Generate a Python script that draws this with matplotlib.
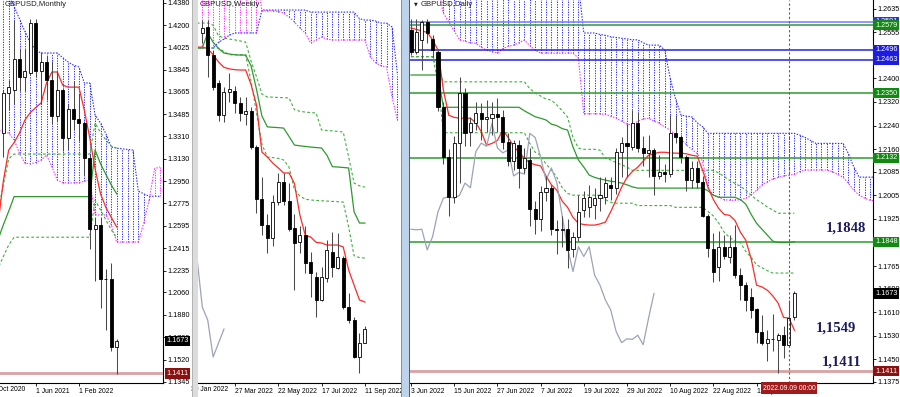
import matplotlib
matplotlib.use("Agg")
import matplotlib.pyplot as plt
from matplotlib.patches import Rectangle

plt.rcParams['font.family'] = ['Liberation Sans', 'DejaVu Sans']

# ---------------- monthly GBPUSD (Dec 2020 .. Sep 2022) ----------------
m_open = [1.3337, 1.3660, 1.3680, 1.3930, 1.3785, 1.3820, 1.4215, 1.3830, 1.3905, 1.3760, 1.3475,
          1.3680, 1.3300, 1.3530, 1.3450, 1.3415, 1.3140, 1.2570, 1.2600, 1.2170, 1.2165, 1.1620]
m_high = [1.3681, 1.3760, 1.4240, 1.4010, 1.4010, 1.4250, 1.4250, 1.3985, 1.3955, 1.3915, 1.3835,
          1.3700, 1.3572, 1.3750, 1.3645, 1.3435, 1.3165, 1.2665, 1.2665, 1.2245, 1.2295, 1.1690]
m_low = [1.3146, 1.3520, 1.3565, 1.3670, 1.3670, 1.3800, 1.3785, 1.3570, 1.3600, 1.3410, 1.3435,
         1.3195, 1.3200, 1.3360, 1.3275, 1.3000, 1.2410, 1.2155, 1.1935, 1.1760, 1.1590, 1.1405]
m_close = [1.3657, 1.3705, 1.3930, 1.3785, 1.3830, 1.4215, 1.3830, 1.3905, 1.3760, 1.3475, 1.3680,
           1.3300, 1.3530, 1.3450, 1.3415, 1.3140, 1.2570, 1.2600, 1.2165, 1.2165, 1.1620, 1.1673]
# lines start one bar before the first candle (Nov 2020)
m_tenkan = [1.2600, 1.2950, 1.3200, 1.3260, 1.3337, 1.3440, 1.3500, 1.3540, 1.3577, 1.3737, 1.3825,
            1.3825, 1.3720, 1.3704, 1.3704, 1.3704, 1.3520, 1.3300, 1.3050, 1.2850, 1.2740, 1.2660, 1.2584]
m_kijun = [1.2480, 1.2600, 1.2710] + [1.2827] * 15 + [1.3200, 1.3090, 1.3005, 1.2920, 1.2850]
m_level_hi = [1.2700, 1.2920, 1.3130] + [1.3168] * 15 + [1.3416, 1.3340, 1.3280, 1.3230, 1.3216]
m_level_lo = [1.2250, 1.2347, 1.2440] + [1.2502] * 15 + [1.2800, 1.2720, 1.2640, 1.2560, 1.2500]
m_span_a = [1.4450, 1.4450, 1.4450, 1.4350, 1.4250, 1.4150, 1.4060, 1.4000, 1.3977, 1.3977, 1.3977,
            1.3977, 1.3940, 1.3905, 1.3880, 1.3865, 1.3737, 1.3737, 1.3480, 1.3416, 1.3330, 1.3224,
            1.3216, 1.3210, 1.3205, 1.3200, 1.2870, 1.2850, 1.2830, 1.2830, 1.2830]
m_span_b = [1.3360, 1.3350, 1.3336, 1.3280, 1.3175, 1.3095, 1.3090, 1.3100, 1.3120, 1.3160, 1.3065,
            1.2959, 1.2940, 1.2935, 1.2938, 1.2940, 1.2950, 1.2959, 1.2680, 1.2680, 1.2680, 1.2600,
            1.2463, 1.2463, 1.2463, 1.2463, 1.2463, 1.2615, 1.2800, 1.3050, 1.3065]
m_yticks = [1.4380, 1.4200, 1.4025, 1.3845, 1.3665, 1.3485, 1.3310, 1.3130, 1.2950, 1.2775, 1.2595,
            1.2415, 1.2235, 1.2060, 1.1880, 1.1700, 1.1520, 1.1345]
m_xlabels = {-2: '1 Oct 2020', 6: '1 Jun 2021', 14: '1 Feb 2022'}

# ---------------- weekly GBPUSD (13 Feb 2022 .. 11 Sep 2022) ----------------
w_open = [1.3559, 1.3597, 1.3418, 1.3240, 1.3036, 1.3183, 1.3190, 1.3113, 1.3040, 1.3060, 1.2832,
          1.2500, 1.2335, 1.2255, 1.2482, 1.2609, 1.2490, 1.2316, 1.2225, 1.2272, 1.2100, 1.2004,
          1.1858, 1.1998, 1.2163, 1.2062, 1.2125, 1.1813, 1.1730, 1.1495, 1.1584]
w_high = [1.3641, 1.3641, 1.3450, 1.3259, 1.3215, 1.3304, 1.3220, 1.3150, 1.3150, 1.3090, 1.2845,
          1.2640, 1.2405, 1.2525, 1.2665, 1.2665, 1.2600, 1.2405, 1.2330, 1.2330, 1.2163, 1.2036,
          1.2068, 1.2240, 1.2291, 1.2285, 1.2140, 1.1902, 1.1749, 1.1648, 1.1690]
w_low = [1.3495, 1.3278, 1.3195, 1.3000, 1.2990, 1.3120, 1.3050, 1.3000, 1.2975, 1.2820, 1.2412,
         1.2275, 1.2157, 1.2200, 1.2460, 1.2460, 1.2300, 1.1921, 1.2160, 1.2030, 1.1875, 1.1749,
         1.1850, 1.1975, 1.2005, 1.2055, 1.1800, 1.1711, 1.1488, 1.1393, 1.1584]
w_close = [1.3590, 1.3418, 1.3215, 1.3036, 1.3183, 1.3200, 1.3113, 1.3049, 1.3060, 1.2832, 1.2500,
           1.2335, 1.2253, 1.2482, 1.2609, 1.2490, 1.2310, 1.2221, 1.2270, 1.2093, 1.2030, 1.1858,
           1.2004, 1.2176, 1.2068, 1.2132, 1.1813, 1.1730, 1.1495, 1.1584, 1.1673]
# lines start one bar before the first candle
w_tenkan = [1.3469, 1.3469, 1.3460, 1.3420, 1.3374, 1.3340, 1.3330, 1.3325, 1.3323, 1.3323, 1.3230,
            1.3100, 1.2800, 1.2769, 1.2730, 1.2700, 1.2667, 1.2667, 1.2600, 1.2400, 1.2270, 1.2259,
            1.2225, 1.2221, 1.2208, 1.2208, 1.2208, 1.2196, 1.2049, 1.1953, 1.1858, 1.1845]
w_kijun = [1.3463, 1.3463, 1.3559, 1.3500, 1.3460, 1.3431, 1.3425, 1.3420, 1.3418, 1.3418, 1.3350,
           1.3200, 1.3030, 1.2961, 1.2958, 1.2956, 1.2953, 1.2900, 1.2845, 1.2840, 1.2836, 1.2832,
           1.2829, 1.2826, 1.2780, 1.2707, 1.2705, 1.2702, 1.2699, 1.2420, 1.2348, 1.2348]
w_level_hi = [1.3622, 1.3622, 1.3622, 1.3609, 1.3540, 1.3527, 1.3520, 1.3515, 1.3508, 1.3501, 1.3380,
              1.3280, 1.3170, 1.3151, 1.3150, 1.3148, 1.3147, 1.3145, 1.3070, 1.3060, 1.3055, 1.3052,
              1.3049, 1.2941, 1.2938, 1.2935, 1.2932, 1.2928, 1.2769, 1.2603, 1.2585, 1.2577]
w_level_lo = [1.3463, 1.3463, 1.3463, 1.3463, 1.3463, 1.3440, 1.3420, 1.3420, 1.3420, 1.3420, 1.3250,
              1.3050, 1.2850, 1.2769, 1.2765, 1.2760, 1.2750, 1.2705, 1.2560, 1.2520, 1.2500, 1.2495,
              1.2492, 1.2490, 1.2488, 1.2486, 1.2484, 1.2482, 1.2323, 1.2140, 1.2128, 1.2125]
w_span_a = [1.3463, 1.3463, 1.3463, 1.3463, 1.3500, 1.3520, 1.3545, 1.3559, 1.3559, 1.3559, 1.3559,
            1.3559, 1.3705, 1.3705, 1.3705, 1.3705, 1.3705, 1.3705, 1.3705, 1.3705, 1.3705, 1.3692,
            1.3692, 1.3692, 1.3692, 1.3692, 1.3692, 1.3692, 1.3692, 1.3692, 1.3650, 1.3641, 1.3641,
            1.3635, 1.3622, 1.3622, 1.3597, 1.3300]
w_span_b = [1.3950] * 12 + [1.3700, 1.3700, 1.3700, 1.3695, 1.3686, 1.3660, 1.3629, 1.3590, 1.3559,
                            1.3495, 1.3515, 1.3533, 1.3520, 1.3514, 1.3514, 1.3514, 1.3514, 1.3514,
                            1.3514, 1.3514, 1.3406, 1.3368, 1.3350, 1.3342, 1.3151, 1.3004]
w_xlabels = {-2: '30 Jan 2022', 6: '27 Mar 2022', 14: '22 May 2022', 22: '17 Jul 2022', 30: '11 Sep 2022'}

# ---------------- daily GBPUSD (3 Jun 2022 .. 12 Sep 2022) ----------------
d_open = [1.2564, 1.2490, 1.2530, 1.2590, 1.2532, 1.2490, 1.2304, 1.2135, 1.2000, 1.2180, 1.2350,
          1.2218, 1.2250, 1.2282, 1.2262, 1.2265, 1.2280, 1.2270, 1.2185, 1.2120, 1.2176, 1.2097,
          1.2125, 1.1960, 1.1925, 1.2017, 1.2030, 1.1890, 1.1888, 1.1890, 1.1822, 1.1865, 1.1955,
          1.1966, 1.1971, 1.1995, 1.1998, 1.2040, 1.2030, 1.2152, 1.2181, 1.2168, 1.2248, 1.2165,
          1.2148, 1.2158, 1.2070, 1.2082, 1.2076, 1.2214, 1.2200, 1.2133, 1.2056, 1.2097, 1.2048,
          1.1935, 1.1822, 1.1764, 1.1831, 1.1795, 1.1831, 1.1735, 1.1701, 1.1660, 1.1620, 1.1544,
          1.1507, 1.1520, 1.1516, 1.1532, 1.1500, 1.1592]
d_high = [1.2600, 1.2599, 1.2598, 1.2600, 1.2545, 1.2500, 1.2320, 1.2160, 1.2205, 1.2405, 1.2368,
          1.2270, 1.2320, 1.2315, 1.2325, 1.2320, 1.2332, 1.2292, 1.2215, 1.2190, 1.2190, 1.2165,
          1.2165, 1.1985, 1.2035, 1.2070, 1.2040, 1.1921, 1.1935, 1.1925, 1.1880, 1.2005, 1.2020,
          1.2040, 1.2030, 1.2065, 1.2065, 1.2065, 1.2165, 1.2200, 1.2245, 1.2293, 1.2285, 1.2205,
          1.2210, 1.2165, 1.2140, 1.2110, 1.2277, 1.2276, 1.2210, 1.2140, 1.2120, 1.2120, 1.2070,
          1.1940, 1.1876, 1.1885, 1.1870, 1.1870, 1.1905, 1.1760, 1.1712, 1.1690, 1.1625, 1.1600,
          1.1550, 1.1605, 1.1540, 1.1562, 1.1650, 1.1680]
d_low = [1.2480, 1.2483, 1.2428, 1.2520, 1.2470, 1.2290, 1.2110, 1.1934, 1.1980, 1.2046, 1.2170,
         1.2170, 1.2225, 1.2190, 1.2220, 1.2210, 1.2220, 1.2160, 1.2105, 1.2090, 1.2030, 1.2080,
         1.1900, 1.1875, 1.1885, 1.1985, 1.1870, 1.1808, 1.1830, 1.1760, 1.1795, 1.1850, 1.1930,
         1.1930, 1.1925, 1.1950, 1.1975, 1.1990, 1.2010, 1.2065, 1.2065, 1.2157, 1.2150, 1.2105,
         1.2065, 1.2005, 1.2060, 1.2050, 1.2068, 1.2180, 1.2115, 1.2020, 1.2030, 1.2030, 1.1930,
         1.1795, 1.1713, 1.1716, 1.1790, 1.1775, 1.1725, 1.1652, 1.1615, 1.1590, 1.1505, 1.1500,
         1.1444, 1.1480, 1.1404, 1.1455, 1.1495, 1.1585]
d_close = [1.2488, 1.2555, 1.2590, 1.2553, 1.2496, 1.2304, 1.2135, 1.2000, 1.2180, 1.2350, 1.2214,
           1.2250, 1.2282, 1.2262, 1.2270, 1.2280, 1.2270, 1.2185, 1.2120, 1.2180, 1.2097, 1.2130,
           1.1960, 1.1925, 1.2017, 1.2030, 1.1890, 1.1888, 1.1890, 1.1820, 1.1865, 1.1949, 1.1995,
           1.2000, 1.1995, 1.2005, 1.2046, 1.2030, 1.2152, 1.2181, 1.2170, 1.2248, 1.2165, 1.2148,
           1.2158, 1.2070, 1.2082, 1.2076, 1.2214, 1.2200, 1.2133, 1.2056, 1.2097, 1.2048, 1.1935,
           1.1826, 1.1747, 1.1831, 1.1798, 1.1831, 1.1735, 1.1701, 1.1651, 1.1617, 1.1544, 1.1507,
           1.1520, 1.1518, 1.1532, 1.1500, 1.1590, 1.1673]
d_tenkan = [1.2570, 1.2565, 1.2560, 1.2555, 1.2530, 1.2495, 1.2360, 1.2275, 1.2268, 1.2265, 1.2265,
            1.2265, 1.2250, 1.2220, 1.2174, 1.2180, 1.2190, 1.2225, 1.2200, 1.2170, 1.2150, 1.2130,
            1.2114, 1.2108, 1.2104, 1.2070, 1.2040, 1.2022, 1.1985, 1.1964, 1.1930, 1.1910, 1.1906,
            1.1904, 1.1904, 1.1908, 1.1914, 1.1950, 1.1990, 1.2032, 1.2065, 1.2085, 1.2100, 1.2120,
            1.2140, 1.2145, 1.2150, 1.2150, 1.2148, 1.2147, 1.2147, 1.2145, 1.2140, 1.2137, 1.2090,
            1.2032, 1.1990, 1.1960, 1.1940, 1.1937, 1.1920, 1.1880, 1.1853, 1.1790, 1.1701, 1.1695,
            1.1684, 1.1665, 1.1640, 1.1592, 1.1590, 1.1549]
d_kijun = [1.2411] * 6 + [1.2302] * 15 + [1.2290, 1.2280, 1.2270, 1.2265, 1.2259, 1.2245, 1.2240,
                                         1.2230, 1.2225, 1.2168, 1.2124, 1.2100, 1.2073, 1.2065,
                                         1.2060, 1.2056, 1.2052, 1.2050, 1.2046, 1.2040, 1.2033] \
          + [1.2029] * 13 + [1.2020, 1.2005, 1.1998, 1.1998, 1.1998, 1.1998, 1.1990, 1.1975, 1.1940,
                             1.1910, 1.1890, 1.1870, 1.1850, 1.1845, 1.1845, 1.1845, 1.1848]
d_level_hi = [1.2473] * 5 + [1.2430] + [1.2388] * 16 + [1.2365, 1.2350, 1.2340, 1.2330, 1.2326,
                                                      1.2310, 1.2290, 1.2269, 1.2200, 1.2164,
                                                      1.2160, 1.2160, 1.2160, 1.2157, 1.2130,
                                                      1.2124, 1.2115, 1.2108, 1.2100] \
             + [1.2089] * 16 + [1.2080, 1.2068, 1.2055, 1.2045, 1.2035, 1.2022, 1.2005, 1.1990,
                                1.1978, 1.1965, 1.1955, 1.1944, 1.1944, 1.1944, 1.1944]
d_level_lo = [1.2473] * 5 + [1.2388] + [1.2216] * 16 + [1.2180, 1.2150, 1.2140, 1.2110, 1.2090,
                                                      1.2066, 1.2030, 1.2011, 1.2005, 1.2005,
                                                      1.2005, 1.2005, 1.2005, 1.2005, 1.1990,
                                                      1.1981, 1.1978, 1.1978, 1.1978, 1.1978] \
             + [1.1970] * 7 + [1.1964] * 6 + [1.1950, 1.1935, 1.1910, 1.1880, 1.1862, 1.1850,
                                              1.1845, 1.1815, 1.1795, 1.1770, 1.1760, 1.1750,
                                              1.1742, 1.1742, 1.1742, 1.1742, 1.1742]
d_span_a = [1.2720] * 32 + [1.2553, 1.2553, 1.2553, 1.2548, 1.2545, 1.2540, 1.2538, 1.2535, 1.2533,
                            1.2530, 1.2530, 1.2520, 1.2512, 1.2512, 1.2512, 1.2495, 1.2400, 1.2330,
                            1.2276, 1.2272, 1.2270, 1.2250, 1.2236] \
           + [1.2214] * 17 + [1.2208, 1.2200, 1.2190, 1.2180, 1.2180, 1.2180, 1.2180, 1.2180,
                              1.2180, 1.2146, 1.2100, 1.2066, 1.2066, 1.2066, 1.2066]
d_span_b = [1.2700] * 6 + [1.2620, 1.2590, 1.2560, 1.2530, 1.2525, 1.2520, 1.2518, 1.2505, 1.2495,
                           1.2490, 1.2485, 1.2500, 1.2508, 1.2512, 1.2520, 1.2529, 1.2510, 1.2495] \
           + [1.2485] * 7 + [1.2468, 1.2280, 1.2280, 1.2280, 1.2280, 1.2278, 1.2272, 1.2265, 1.2255,
                             1.2245, 1.2242, 1.2255, 1.2262, 1.2265, 1.2255, 1.2248, 1.2235, 1.2225,
                             1.2210, 1.2195, 1.2175, 1.2160, 1.2145, 1.2120, 1.2030, 1.2005, 1.1998,
                             1.1990, 1.1988, 1.1988, 1.1990, 1.1995, 1.2005, 1.2022, 1.2040, 1.2050,
                             1.2060, 1.2065, 1.2070, 1.2073, 1.2075, 1.2085, 1.2090, 1.2090, 1.2090,
                             1.2090, 1.2090, 1.2085, 1.2075, 1.2066, 1.2045, 1.2022, 1.2005, 1.1995,
                             1.1988, 1.1985]
d_yticks = [1.2635, 1.2555, 1.2480, 1.2400, 1.2320, 1.2240, 1.2160, 1.2085, 1.2005, 1.1925, 1.1845,
            1.1765, 1.1690, 1.1610, 1.1530, 1.1450, 1.1375]
d_xlabels = {0: '3 Jun 2022', 8: '15 Jun 2022', 16: '27 Jun 2022', 24: '7 Jul 2022', 32: '19 Jul 2022',
             40: '29 Jul 2022', 48: '10 Aug 2022', 56: '22 Aug 2022', 64: '1 Sep 2022'}
d_levels = [(1.2591, '#7878ff'), (1.2579, '#2e9a2e'), (1.2496, '#2424e0'), (1.2463, '#2424e0'),
            (1.2350, '#2e9a2e'), (1.2132, '#2e9a2e'), (1.1848, '#2e9a2e'), (1.1411, '#d8a2a2')]
d_tags = [(1.2591, '1.2591', '#3030e8'), (1.2579, '1.2579', '#108a10'), (1.2496, '1.2496', '#1c1ce0'),
          (1.2463, '1.2463', '#1c1ce0'), (1.2350, '1.2350', '#108a10'), (1.2132, '1.2132', '#108a10'),
          (1.1848, '1.1848', '#108a10'), (1.1673, '1.1673', 'black'), (1.1411, '1.1411', '#8b1010')]
notes = ['1,1848', '1,1549', '1,1411']

BLUE, MAG = '#2a2aff', '#ff30ff'
RED, GREEN, LGREEN, GRAY = '#ff2a2a', '#2e9a2e', '#3fb03f', '#9ea3b5'
DOT = (0, (1.3, 1.3))
YFS, XFS = 5.2, 4.9

W, H = 900, 397
fig = plt.figure(figsize=(9, 3.97), dpi=100)


def px_axes(x0, x1, y0, y1):
    return fig.add_axes([x0 / W, 1 - y1 / H, (x1 - x0) / W, (y1 - y0) / H])


def candles(ax, o, h, l, c, w=0.56):
    for k in range(len(o)):
        ax.vlines(k, l[k], h[k], color='#4a4a4a', lw=0.75, zorder=5)
        lo, hi = min(o[k], c[k]), max(o[k], c[k])
        fc = 'white' if c[k] >= o[k] else 'black'
        ax.add_patch(Rectangle((k - w / 2, lo), w, max(hi - lo, 1e-6), fc=fc, ec='black', lw=0.6, zorder=6))


def kumo(ax, start, a, b):
    xs = [start + k for k in range(len(a))]
    for x, ai, bi in zip(xs, a, b):
        ax.vlines(x, min(ai, bi), max(ai, bi), colors=BLUE if ai >= bi else MAG,
                  linestyles=DOT, lw=0.7, zorder=1)
    ax.plot(xs, a, color=BLUE, ls=DOT, lw=0.8, zorder=2)
    ax.plot(xs, b, color=MAG, ls=DOT, lw=0.8, zorder=2)


def line(ax, start, vals, **kw):
    ax.plot([start + k for k in range(len(vals))], vals, **kw)


def frame(ax, yticks=None, xlabels=None):
    ax.spines['top'].set_visible(False)
    ax.spines['left'].set_visible(False)
    for s in ('right', 'bottom'):
        ax.spines[s].set_linewidth(0.8)
    ax.yaxis.tick_right()
    ax.tick_params(axis='y', length=2, width=0.6, pad=1.0, labelsize=YFS)
    ax.tick_params(axis='x', length=2.5, width=0.6, pad=1.2, labelsize=XFS)
    if yticks is None:
        ax.spines['right'].set_visible(False)
        ax.set_yticks([])
    else:
        ax.set_yticks(yticks, [f'{v:.4f}' for v in yticks])
    lo, hi = ax.get_xlim()
    inside = {k: v for k, v in xlabels.items() if lo <= k <= hi}
    ax.set_xticks(list(inside), list(inside.values()))
    for t in ax.get_xticklabels():
        t.set_ha('left')
    for k, v in xlabels.items():
        if k < lo:
            ax.text(k, -0.0085, v, transform=ax.get_xaxis_transform(), fontsize=XFS,
                    ha='left', va='top', clip_on=False)


def tag(ax, y, text, color, x):
    ax.text(x, y, text, transform=ax.get_yaxis_transform(), fontsize=YFS, color='white',
            ha='left', va='center', zorder=30, clip_on=False,
            bbox=dict(boxstyle='square,pad=0.22', fc=color, ec='none'))


# ---------- monthly ----------
axm = px_axes(0, 163, 0, 383)
axm.set_xlim(-0.611, 29.57)
axm.set_ylim(1.13346, 1.44016)
kumo(axm, -1, m_span_a, m_span_b)
line(axm, -1, m_level_hi, color=LGREEN, ls=(0, (2.5, 2)), lw=0.8, zorder=3)
line(axm, -1, m_level_lo, color=LGREEN, ls=(0, (2.5, 2)), lw=0.8, zorder=3)
line(axm, -1, m_kijun, color=GREEN, lw=0.9, zorder=3)
line(axm, -1, m_tenkan, color=RED, lw=0.9, zorder=4)
axm.axhline(1.1411, color='#d8a2a2', lw=2.0, zorder=3)
candles(axm, m_open, m_high, m_low, m_close)
frame(axm, m_yticks, m_xlabels)
axm.text(5 / 163, 0.998, 'GBPUSD,Monthly', transform=axm.transAxes, fontsize=5.6, color='#202020',
         ha='left', va='top', zorder=20)
tag(axm, 1.1673, '1.1673', 'black', 1.02)
tag(axm, 1.1411, '1.1411', '#8b1010', 1.02)

# ---------- weekly ----------
axw = px_axes(198, 400, 0, 383)
axw.set_xlim(-0.793, 36.476)
axw.set_ylim(1.1329, 1.3769)
kumo(axw, -1, w_span_a, w_span_b)
line(axw, -1, w_level_hi, color=LGREEN, ls=(0, (2.5, 2)), lw=0.8, zorder=3)
line(axw, -1, w_level_lo, color=LGREEN, ls=(0, (2.5, 2)), lw=0.8, zorder=3)
line(axw, -1, w_kijun, color=GREEN, lw=0.9, zorder=3)
line(axw, -1, w_tenkan, color=RED, lw=0.9, zorder=4)
line(axw, -1, w_close[25:], color=GRAY, lw=0.9, zorder=4)
candles(axw, w_open, w_high, w_low, w_close)
frame(axw, None, w_xlabels)
axw.text(0.01, 0.998, 'GBPUSD,Weekly', transform=axw.transAxes, fontsize=5.6, color='#202020',
         ha='left', va='top', zorder=20)

# ---------- daily ----------
axd = px_axes(410, 873, 0, 383)
axd.set_xlim(-0.185, 85.56)
axd.set_ylim(1.13706, 1.26644)
kumo(axd, 0, d_span_a, d_span_b)
for y, col in d_levels:
    axd.axhline(y, color=col, lw=2.0 if y < 1.15 else 1.1, zorder=3)
line(axd, 0, d_level_hi, color=LGREEN, ls=(0, (2.5, 2)), lw=0.8, zorder=3)
line(axd, 0, d_level_lo, color=LGREEN, ls=(0, (2.5, 2)), lw=0.8, zorder=3)
line(axd, 0, d_kijun, color=GREEN, lw=0.9, zorder=3)
line(axd, 0, d_tenkan, color=RED, lw=0.9, zorder=4)
line(axd, 0, d_close[26:], color=GRAY, lw=0.9, zorder=4)
candles(axd, d_open, d_high, d_low, d_close)
axd.axvline(70, color='#b03a3a', ls=(0, (2, 2)), lw=0.8, zorder=7)
frame(axd, d_yticks, d_xlabels)
for y, text, col in d_tags:
    tag(axd, y, text, col, 1.0045)
axd.text(0.008, 0.996, '\u25bc', transform=axd.transAxes, fontsize=3.5, color='#202020',
         ha='left', va='top', family='DejaVu Sans', zorder=20)
axd.text(0.024, 0.998, 'GBPUSD,Daily', transform=axd.transAxes, fontsize=5.6, color='#202020',
         ha='left', va='top', zorder=20)
axd.text(70, -0.004, '2022.09.09 00:00', transform=axd.get_xaxis_transform(), fontsize=XFS,
         color='white', ha='center', va='top', zorder=30, clip_on=False,
         bbox=dict(boxstyle='square,pad=0.3', fc='#a01c1c', ec='none'))
serif = dict(family=['Liberation Serif', 'DejaVu Serif'], fontsize=10.5, fontweight='bold', color='#1c1c5a',
             ha='left', va='center', zorder=25)
axd.text(76.9, 1.1894, notes[0], **serif)
axd.text(75.0, 1.1557, notes[1], **serif)
axd.text(76.1, 1.1442, notes[2], **serif)


# ---------- window borders ----------
def band(x0, x1, color):
    fig.add_artist(Rectangle((x0 / W, 0), (x1 - x0) / W, 1, transform=fig.transFigure,
                             fc=color, ec='none', zorder=10))


band(191.5, 192.5, '#b4b4b4')
band(192.5, 198, '#dcdcdc')
band(400.5, 401.5, '#8c8c8c')
band(401.5, 408.5, '#bdd3ec')
band(408.5, 410, '#5c5c5c')

fig.savefig('out.png', dpi=100, facecolor='white')
